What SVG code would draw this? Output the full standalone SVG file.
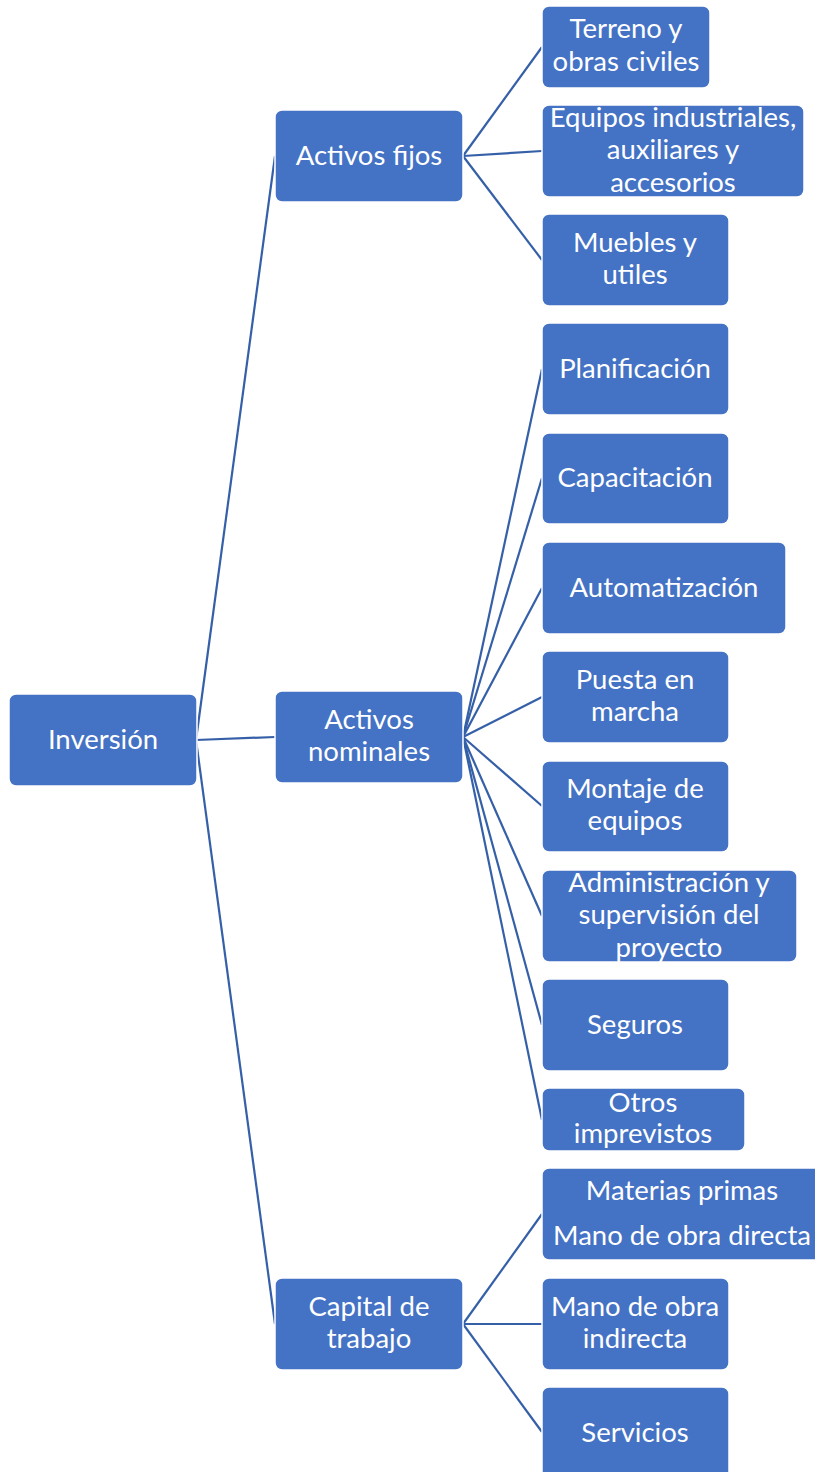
<svg xmlns="http://www.w3.org/2000/svg" width="815" height="1472" viewBox="0 0 815 1472">
<style>
.box{fill:#4472C4;stroke:#FFFFFF;stroke-width:1.5}
.t{font-family:Lato,"Open Sans",sans-serif;font-size:27.5px;fill:#FFFFFF;text-anchor:middle}
.c{stroke:#3560A8;stroke-width:2.2;fill:none}
</style>
<rect width="815" height="1472" fill="#FFFFFF"/>
<g id="connectors">
<line class="c" x1="196" y1="740" x2="275" y2="156"/>
<line class="c" x1="196" y1="740" x2="275" y2="737"/>
<line class="c" x1="196" y1="740" x2="275" y2="1324"/>
<line class="c" x1="463" y1="156" x2="542" y2="47"/>
<line class="c" x1="463" y1="156" x2="542" y2="151"/>
<line class="c" x1="463" y1="156" x2="542" y2="260"/>
<line class="c" x1="463" y1="737" x2="542" y2="369"/>
<line class="c" x1="463" y1="737" x2="542" y2="478"/>
<line class="c" x1="463" y1="737" x2="542" y2="588"/>
<line class="c" x1="463" y1="737" x2="542" y2="697"/>
<line class="c" x1="463" y1="737" x2="542" y2="806"/>
<line class="c" x1="463" y1="737" x2="542" y2="916"/>
<line class="c" x1="463" y1="737" x2="542" y2="1025"/>
<line class="c" x1="463" y1="737" x2="542" y2="1120"/>
<line class="c" x1="463" y1="1324" x2="542" y2="1214"/>
<line class="c" x1="463" y1="1324" x2="542" y2="1324"/>
<line class="c" x1="463" y1="1324" x2="542" y2="1432"/>
</g>
<g id="inversion"><rect class="box" x="9" y="694" width="188" height="92" rx="7"/><text class="t" x="103" y="749">Inversión</text></g>
<g id="activos-fijos"><rect class="box" x="275" y="110" width="188" height="92" rx="7"/><text class="t" x="369" y="165">Activos fijos</text></g>
<g id="activos-nominales"><rect class="box" x="275" y="691" width="188" height="92" rx="7"/><text class="t" x="369" y="729">Activos</text><text class="t" x="369" y="761">nominales</text></g>
<g id="capital-trabajo"><rect class="box" x="275" y="1278" width="188" height="92" rx="7"/><text class="t" x="369" y="1316">Capital de</text><text class="t" x="369" y="1348">trabajo</text></g>
<g id="terreno"><rect class="box" x="542" y="6" width="168" height="82" rx="7"/><text class="t" x="626" y="38">Terreno y</text><text class="t" x="626" y="71">obras civiles</text></g>
<g id="equipos"><rect class="box" x="542" y="105" width="262" height="92" rx="7"/><text class="t" x="673" y="127">Equipos industriales,</text><text class="t" x="673" y="159">auxiliares y</text><text class="t" x="673" y="192">accesorios</text></g>
<g id="muebles"><rect class="box" x="542" y="214" width="187" height="92" rx="7"/><text class="t" x="635" y="252">Muebles y</text><text class="t" x="635" y="284">utiles</text></g>
<g id="planificacion"><rect class="box" x="542" y="323" width="187" height="92" rx="7"/><text class="t" x="635" y="378">Planificación</text></g>
<g id="capacitacion"><rect class="box" x="542" y="433" width="187" height="91" rx="7"/><text class="t" x="635" y="487">Capacitación</text></g>
<g id="automatizacion"><rect class="box" x="542" y="542" width="244" height="92" rx="7"/><text class="t" x="664" y="597">Automatización</text></g>
<g id="puesta-marcha"><rect class="box" x="542" y="651" width="187" height="92" rx="7"/><text class="t" x="635" y="689">Puesta en</text><text class="t" x="635" y="721">marcha</text></g>
<g id="montaje"><rect class="box" x="542" y="761" width="187" height="91" rx="7"/><text class="t" x="635" y="798">Montaje de</text><text class="t" x="635" y="830">equipos</text></g>
<g id="administracion"><rect class="box" x="542" y="870" width="255" height="92" rx="7"/><text class="t" x="669" y="892">Administración y</text><text class="t" x="669" y="924">supervisión del</text><text class="t" x="669" y="957">proyecto</text></g>
<g id="seguros"><rect class="box" x="542" y="979" width="187" height="92" rx="7"/><text class="t" x="635" y="1034">Seguros</text></g>
<g id="otros"><rect class="box" x="542" y="1088" width="203" height="63" rx="7"/><text class="t" x="643" y="1112">Otros</text><text class="t" x="643" y="1143">imprevistos</text></g>
<g id="materias"><rect class="box" x="542" y="1168" width="281" height="92" rx="7"/><text class="t" x="682" y="1200">Materias primas</text><text class="t" x="682" y="1245">Mano de obra directa</text></g>
<g id="mano-indirecta"><rect class="box" x="542" y="1278" width="187" height="92" rx="7"/><text class="t" x="635" y="1316">Mano de obra</text><text class="t" x="635" y="1348">indirecta</text></g>
<g id="servicios"><rect class="box" x="542" y="1387" width="187" height="92" rx="7"/><text class="t" x="635" y="1442">Servicios</text></g>
</svg>
